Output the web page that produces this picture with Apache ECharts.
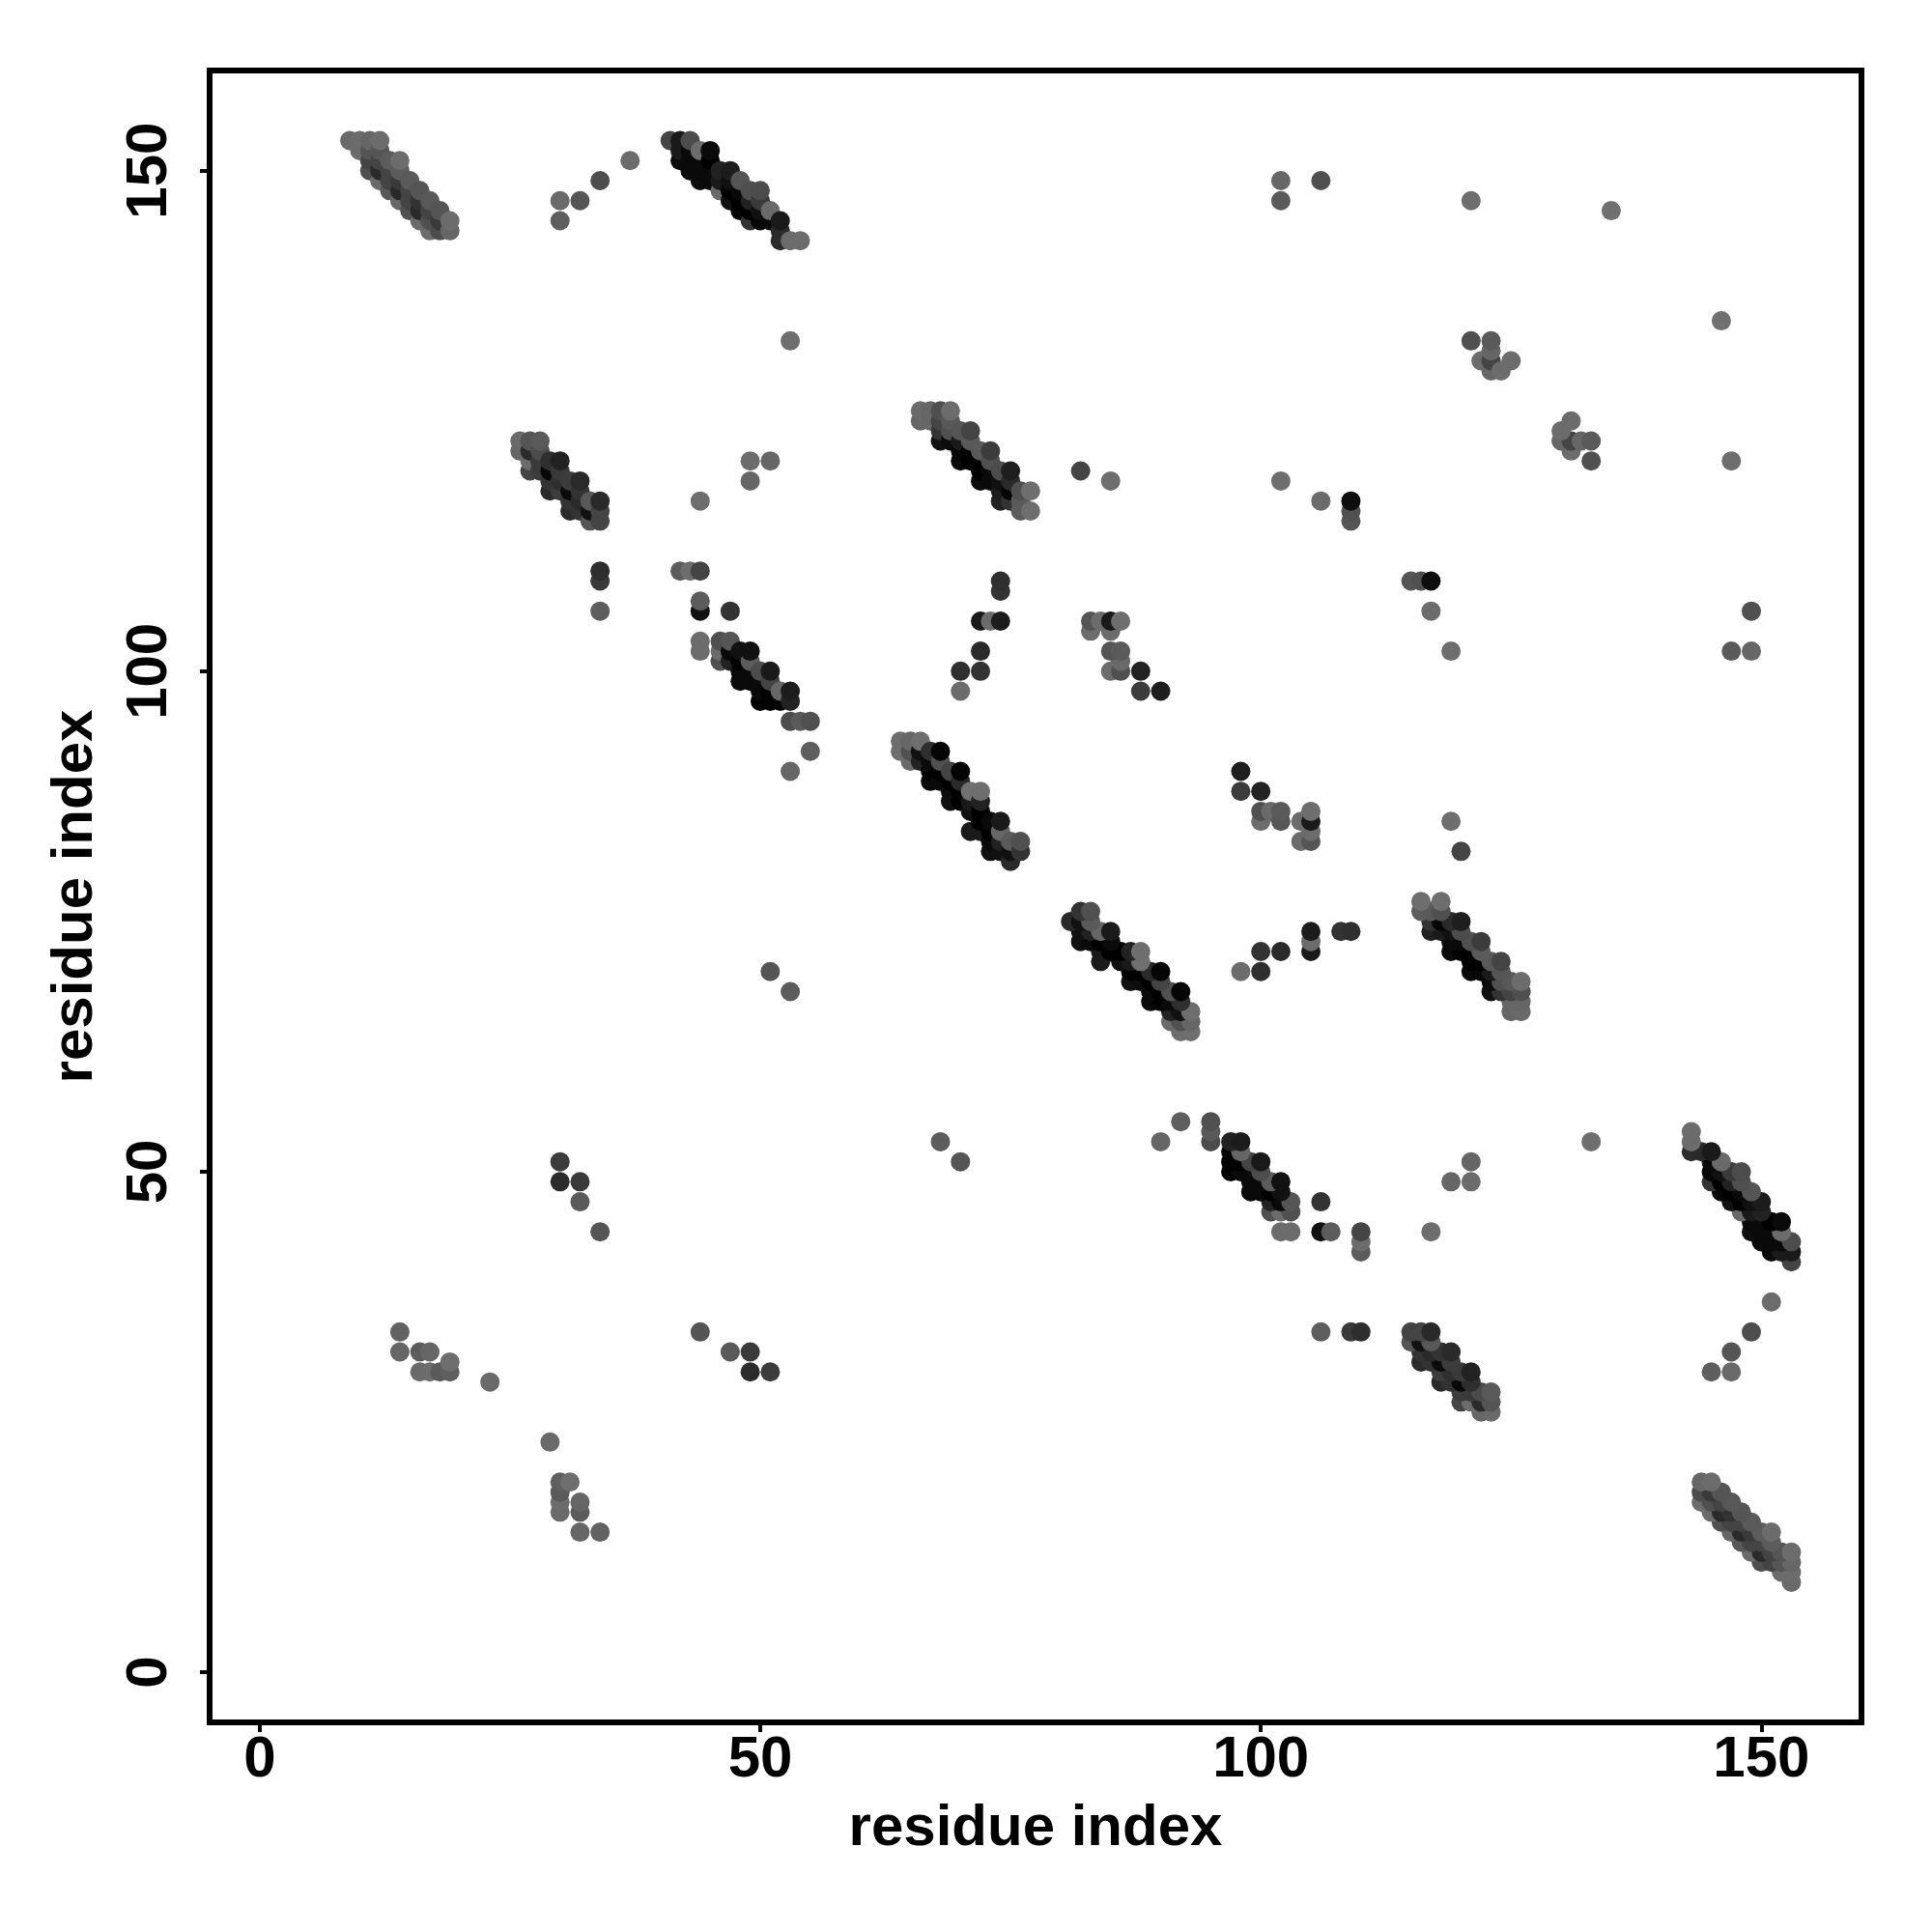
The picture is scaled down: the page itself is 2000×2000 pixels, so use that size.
<!DOCTYPE html>
<html>
<head>
<meta charset="utf-8">
<style>html,body{margin:0;padding:0;background:#fff}#c{width:2000px;height:2000px}</style>
<script src="https://cdn.jsdelivr.net/npm/echarts@6/dist/echarts.min.js"></script>
</head>
<body>
<div id="c"></div>
<script>
// Each entry: [residue i, residue j, gray level]. The map is symmetric: every contact is drawn at (i,j) and (j,i).
const xTicks = [0, 50, 100, 150];
const yTicks = [0, 50, 100, 150];
const axisName = 'residue index';

const bandA = [
[9,153,0x6a],[10,153,0x6c],[11,153,0x66],[12,153,0x6c],[10,152,0x6c],[11,152,0x55],[12,152,0x55],
[11,151,0x44],[12,151,0x44],[13,151,0x5c],[14,151,0x6c],[11,150,0x50],[12,150,0x2a],[13,150,0x44],[14,150,0x5c],
[12,149,0x6a],[13,149,0x44],[14,149,0x3a],[15,149,0x5a],[13,148,0x58],[14,148,0x2a],[15,148,0x44],[16,148,0x55],
[14,147,0x66],[15,147,0x44],[16,147,0x33],[17,147,0x58],[15,146,0x50],[16,146,0x2a],[17,146,0x44],[18,146,0x55],
[16,145,0x6a],[17,145,0x50],[18,145,0x3a],[19,145,0x6c],[17,144,0x6c],[18,144,0x4c],[19,144,0x66]];

const bandB = [
[41,153,0x44],[42,153,0x1a],[43,153,0x4c],[42,152,0x1a],[43,152,0x0a],[44,152,0x6c],[45,152,0x0a],
[42,151,0x0c],[43,151,0x0a],[44,151,0x0a],[45,151,0x00],[43,150,0x0a],[44,150,0x0a],[45,150,0x0a],[46,150,0x22],[47,150,0x1c],
[44,149,0x0e],[45,149,0x0a],[46,149,0x1a],[47,149,0x11],[48,149,0x55],[46,148,0x6a],[47,148,0x00],[48,148,0x0a],[49,148,0x4f],[50,148,0x4c],
[47,147,0x11],[48,147,0x00],[49,147,0x22],[50,147,0x3a],[48,146,0x06],[49,146,0x00],[50,146,0x11],[51,146,0x6a],
[49,145,0x33],[50,145,0x06],[51,145,0x0a],[52,145,0x1a],[52,144,0x2a],[52,143,0x2c],[53,143,0x6c],[54,143,0x6c]];

const bandC = [
[26,123,0x6a],[27,123,0x55],[28,123,0x5a],[26,122,0x66],[27,122,0x2a],[28,122,0x4c],
[27,121,0x6c],[28,121,0x3a],[29,121,0x2f],[30,121,0x22],[27,120,0x44],[28,120,0x3c],[29,120,0x08],[30,120,0x3a],
[29,119,0x33],[30,119,0x2f],[31,119,0x3c],[32,119,0x2a],[29,118,0x2a],[30,118,0x3c],[31,118,0x0a],[32,118,0x33],
[31,117,0x33],[32,117,0x2a],[33,117,0x58],[34,117,0x2a],[31,116,0x2a],[32,116,0x33],[33,116,0x11],[34,116,0x44],
[33,115,0x55],[34,115,0x44]];

const bandD = [
[46,103,0x50],[47,103,0x55],[46,102,0x6c],[47,102,0x0a],[48,102,0x11],[49,102,0x11],
[46,101,0x50],[47,101,0x22],[48,101,0x00],[49,101,0x5c],[48,100,0x0a],[49,100,0x0a],[50,100,0x4c],[51,100,0x1a],
[48,99,0x0a],[49,99,0x0a],[50,99,0x0a],[51,99,0x44],[50,98,0x0a],[51,98,0x00],[52,98,0x66],[53,98,0x1c],
[50,97,0x00],[51,97,0x00],[52,97,0x00],[53,97,0x22],[53,95,0x4c],[54,95,0x5a],[55,95,0x50],[55,92,0x5e],[53,90,0x66]];

const bandE = [
[66,126,0x6a],[67,126,0x66],[68,126,0x50],[69,126,0x6c],[66,125,0x66],[67,125,0x66],[68,125,0x44],[69,125,0x58],
[68,124,0x33],[69,124,0x50],[70,124,0x55],[71,124,0x44],[68,123,0x11],[69,123,0x0c],[70,123,0x1a],[71,123,0x58],
[70,122,0x06],[71,122,0x00],[72,122,0x5a],[73,122,0x3c],[70,121,0x0a],[71,121,0x00],[72,121,0x00],[73,121,0x50],
[72,120,0x00],[73,120,0x0a],[74,120,0x4c],[75,120,0x1e],[72,119,0x0c],[73,119,0x0a],[74,119,0x11],[75,119,0x2a],
[74,118,0x1c],[75,118,0x06],[76,118,0x50],[77,118,0x6e],[74,117,0x22],[75,117,0x33],[76,117,0x5a],[76,116,0x5c],[77,116,0x6e]];

const bandF = [
[64,93,0x6e],[65,93,0x66],[66,93,0x6e],[64,92,0x6e],[65,92,0x50],[66,92,0x11],[67,92,0x2f],[68,92,0x06],
[65,91,0x6a],[66,91,0x22],[67,91,0x0a],[68,91,0x50],[67,90,0x00],[68,90,0x00],[69,90,0x44],[70,90,0x06],
[67,89,0x0a],[68,89,0x0a],[69,89,0x00],[70,89,0x2a],[69,88,0x0e],[70,88,0x00],[71,88,0x70],[72,88,0x6e],
[69,87,0x11],[70,87,0x00],[71,87,0x1a],[72,87,0x22],[71,86,0x11],[72,86,0x00],[72,85,0x00],[73,85,0x0a],[74,85,0x1a],
[71,84,0x1a],[72,84,0x1a],[73,84,0x00],[74,84,0x66],[73,83,0x0a],[74,83,0x22],[75,83,0x5a],[76,83,0x50],
[73,82,0x11],[74,82,0x11],[75,82,0x11],[76,82,0x33],[75,81,0x2a]];

const patchLow = [
[14,34,0x62],[14,32,0x66],[16,32,0x5c],[17,32,0x66],[16,30,0x6a],[17,30,0x6c],[18,30,0x5a],[19,30,0x5f],[19,31,0x6e],[23,29,0x6a],
[30,51,0x3c],[30,49,0x2c],[32,49,0x3a],[32,47,0x5a],[34,44,0x55],
[30,147,0x6a],[30,145,0x5e],[32,147,0x55],[34,149,0x4d],[37,151,0x6c],
[34,110,0x2e],[34,109,0x3a],[34,106,0x5e],[42,110,0x5c],[43,110,0x6c],[44,110,0x44],
[44,107,0x5c],[44,106,0x11],[47,106,0x33],[44,103,0x6c],[44,102,0x6c],
[49,121,0x6c],[51,121,0x66],[49,119,0x66],[44,117,0x6e],[53,133,0x6e],[51,70,0x55],[53,68,0x5c]];

const patchMid = [
[70,98,0x6c],[70,100,0x2f],[72,100,0x33],[72,102,0x2a],[72,105,0x1a],[73,105,0x6c],[74,105,0x1c],[74,108,0x33],[74,109,0x2f],
[90,98,0x1e],[88,98,0x3c],[88,100,0x22],[86,100,0x50],[86,101,0x6a],[86,102,0x5a],[85,100,0x6c],[85,102,0x55],
[85,104,0x6c],[86,105,0x6e],[85,105,0x1a],[84,105,0x6c],[83,104,0x6c],[83,105,0x55]];

const patchHigh = [
[82,120,0x44],[85,119,0x6e],[102,119,0x6e],[106,117,0x6c],[109,117,0x0e],[109,116,0x50],[109,115,0x55],
[102,149,0x66],[102,147,0x5a],[106,149,0x50],[121,147,0x6e],[135,146,0x70],
[121,133,0x50],[123,133,0x5a],[123,132,0x66],[122,131,0x6c],[123,131,0x44],[125,131,0x6c],[123,130,0x66],[124,130,0x6c]];

const groups = [bandA, bandB, bandC, bandD, bandE, bandF, patchLow, patchMid, patchHigh];
const contacts = [];
groups.forEach(g => g.forEach(c => { contacts.push([c[0], c[1], c[2]]); contacts.push([c[1], c[0], c[2]]); }));
contacts.sort((a, b) => (a[0] + a[1]) - (b[0] + b[1]));

const chart = echarts.init(document.getElementById('c'), null, {renderer: 'canvas'});
const font = {fontFamily: 'Liberation Sans', fontWeight: 'bold', fontSize: 60, color: '#000'};
chart.setOption({
  animation: false,
  backgroundColor: '#fff',
  grid: {left: 217, top: 73, width: 1710, height: 1710, show: true, borderColor: '#000', borderWidth: 6, backgroundColor: 'transparent'},
  xAxis: {
    type: 'value', min: -5, max: 160, splitLine: {show: false},
    axisLine: {show: true, onZero: false, lineStyle: {color: '#000', width: 6}},
    axisTick: {show: true, length: 10, lineStyle: {color: '#000', width: 4}, customValues: xTicks},
    axisLabel: Object.assign({margin: 9, customValues: xTicks, hideOverlap: false}, font),
    name: axisName, nameLocation: 'middle', nameGap: 80, nameTextStyle: font
  },
  yAxis: {
    type: 'value', min: -5, max: 160, splitLine: {show: false},
    axisLine: {show: true, onZero: false, lineStyle: {color: '#000', width: 6}},
    axisTick: {show: true, length: 10, lineStyle: {color: '#000', width: 4}, customValues: yTicks},
    axisLabel: Object.assign({margin: 32, rotate: 90, customValues: yTicks, hideOverlap: false}, font),
    name: axisName, nameLocation: 'middle', nameGap: 109, nameRotate: 90, nameTextStyle: font
  },
  series: [{
    type: 'scatter', symbol: 'circle', symbolSize: 20, silent: true, large: false, progressive: 0,
    data: contacts,
    encode: {x: 0, y: 1},
    itemStyle: {opacity: 1, color: p => { const g = p.value[2]; return 'rgb(' + g + ',' + g + ',' + g + ')'; }}
  }]
});
</script>
</body>
</html>
